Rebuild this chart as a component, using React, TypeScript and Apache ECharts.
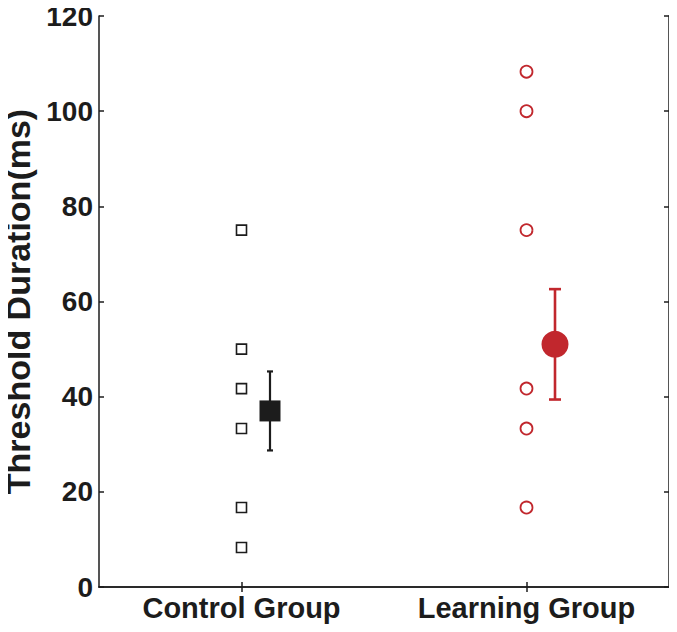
import React, { useEffect, useRef } from "react";
import * as echarts from "echarts";

const categories = ["Control Group", "Learning Group"];
const yTicks = [0, 20, 40, 60, 80, 100, 120];
const controlValues = [75, 50, 41.7, 33.3, 16.7, 8.3];
const learningValues = [108.3, 100, 75, 41.7, 33.3, 16.7];
const groupMeans = [37.0, 51.0];
const errLow = [28.7, 39.4];
const errHigh = [45.3, 62.6];
const meanOffset = 0.1;

const RED = "#c1272d";
const DARK = "#1c1c1c";
const FONT = "Liberation Sans, Arial, Helvetica, sans-serif";

export default function App() {
  const ref = useRef<HTMLDivElement>(null);
  useEffect(() => {
    if (!ref.current) return;
    const chart = echarts.init(ref.current, undefined, { renderer: "svg" });
    const capHalf = [3, 6];
    const barColors = [DARK, RED];
    const barWidths = [2.2, 2.6];
    const option: any = {
      animation: false,
      backgroundColor: "#ffffff",
      grid: { left: 99, right: 8, top: 16, bottom: 45, containLabel: false, outerBoundsMode: "none" },
      xAxis: [
        {
          type: "category",
          data: categories,
          position: "bottom",
          boundaryGap: true,
          axisLine: { show: true, lineStyle: { color: DARK, width: 1.5 } },
          axisTick: { show: true, inside: true, length: 5, alignWithLabel: true, lineStyle: { color: DARK, width: 1.5 } },
          axisLabel: { show: true, interval: 0, hideOverlap: false, margin: 6, fontSize: 29, fontWeight: "bold", fontFamily: FONT, color: DARK },
          splitLine: { show: false },
        },
        {
          type: "category",
          data: categories,
          position: "top",
          boundaryGap: true,
          axisLine: { show: true, lineStyle: { color: DARK, width: 1.5 } },
          axisTick: { show: true, inside: true, length: 5, alignWithLabel: true, lineStyle: { color: DARK, width: 1.5 } },
          axisLabel: { show: false },
          splitLine: { show: false },
        },
        {
          type: "value",
          min: 0.5,
          max: 2.5,
          show: false,
        },
      ],
      yAxis: [
        {
          type: "value",
          min: yTicks[0],
          max: yTicks[yTicks.length - 1],
          interval: 20,
          position: "left",
          name: "Threshold Duration(ms)",
          nameLocation: "middle",
          nameGap: 57,
          nameTextStyle: { fontSize: 34, fontWeight: "bold", fontFamily: FONT, color: DARK },
          axisLine: { show: true, lineStyle: { color: DARK, width: 1.5 } },
          axisTick: { show: true, inside: true, length: 5, lineStyle: { color: DARK, width: 1.5 } },
          axisLabel: { show: true, margin: 6, fontSize: 28, fontWeight: "bold", fontFamily: FONT, color: DARK },
          splitLine: { show: false },
        },
        {
          type: "value",
          min: yTicks[0],
          max: yTicks[yTicks.length - 1],
          interval: 20,
          position: "right",
          axisLine: { show: true, lineStyle: { color: DARK, width: 1.5 } },
          axisTick: { show: true, inside: true, length: 5, lineStyle: { color: DARK, width: 1.5 } },
          axisLabel: { show: false },
          splitLine: { show: false },
        },
      ],
      series: [
        {
          type: "scatter",
          xAxisIndex: 2,
          yAxisIndex: 0,
          symbol: "rect",
          symbolSize: 10,
          itemStyle: { color: "#ffffff", borderColor: DARK, borderWidth: 1.6, opacity: 1 },
          data: controlValues.map((v) => [1, v]),
        },
        {
          type: "scatter",
          xAxisIndex: 2,
          yAxisIndex: 0,
          symbol: "circle",
          symbolSize: 12,
          itemStyle: { color: "#ffffff", borderColor: RED, borderWidth: 1.8, opacity: 1 },
          data: learningValues.map((v) => [2, v]),
        },
        {
          type: "custom",
          xAxisIndex: 2,
          yAxisIndex: 0,
          encode: { x: 0, y: [1, 2] },
          data: categories.map((_, i) => [i + 1 + meanOffset, errLow[i], errHigh[i]]),
          renderItem: (params: any, api: any) => {
            const i = params.dataIndex;
            const lo = api.coord([api.value(0), api.value(1)]);
            const hi = api.coord([api.value(0), api.value(2)]);
            const h = capHalf[i];
            const style = { stroke: barColors[i], lineWidth: barWidths[i] };
            return {
              type: "group",
              children: [
                { type: "line", shape: { x1: lo[0], y1: lo[1], x2: hi[0], y2: hi[1] }, style },
                { type: "line", shape: { x1: lo[0] - h, y1: lo[1], x2: lo[0] + h, y2: lo[1] }, style },
                { type: "line", shape: { x1: hi[0] - h, y1: hi[1], x2: hi[0] + h, y2: hi[1] }, style },
              ],
            };
          },
          z: 3,
        },
        {
          type: "scatter",
          xAxisIndex: 2,
          yAxisIndex: 0,
          symbol: "rect",
          symbolSize: 21,
          itemStyle: { color: DARK, opacity: 1 },
          data: [[1 + meanOffset, groupMeans[0]]],
          z: 4,
        },
        {
          type: "scatter",
          xAxisIndex: 2,
          yAxisIndex: 0,
          symbol: "circle",
          symbolSize: 27,
          itemStyle: { color: RED, opacity: 1 },
          data: [[2 + meanOffset, groupMeans[1]]],
          z: 4,
        },
      ],
    };
    chart.setOption(option);
    return () => chart.dispose();
  }, []);
  return <div ref={ref} style={{ width: 677, height: 632, margin: -8 }} />;
}
